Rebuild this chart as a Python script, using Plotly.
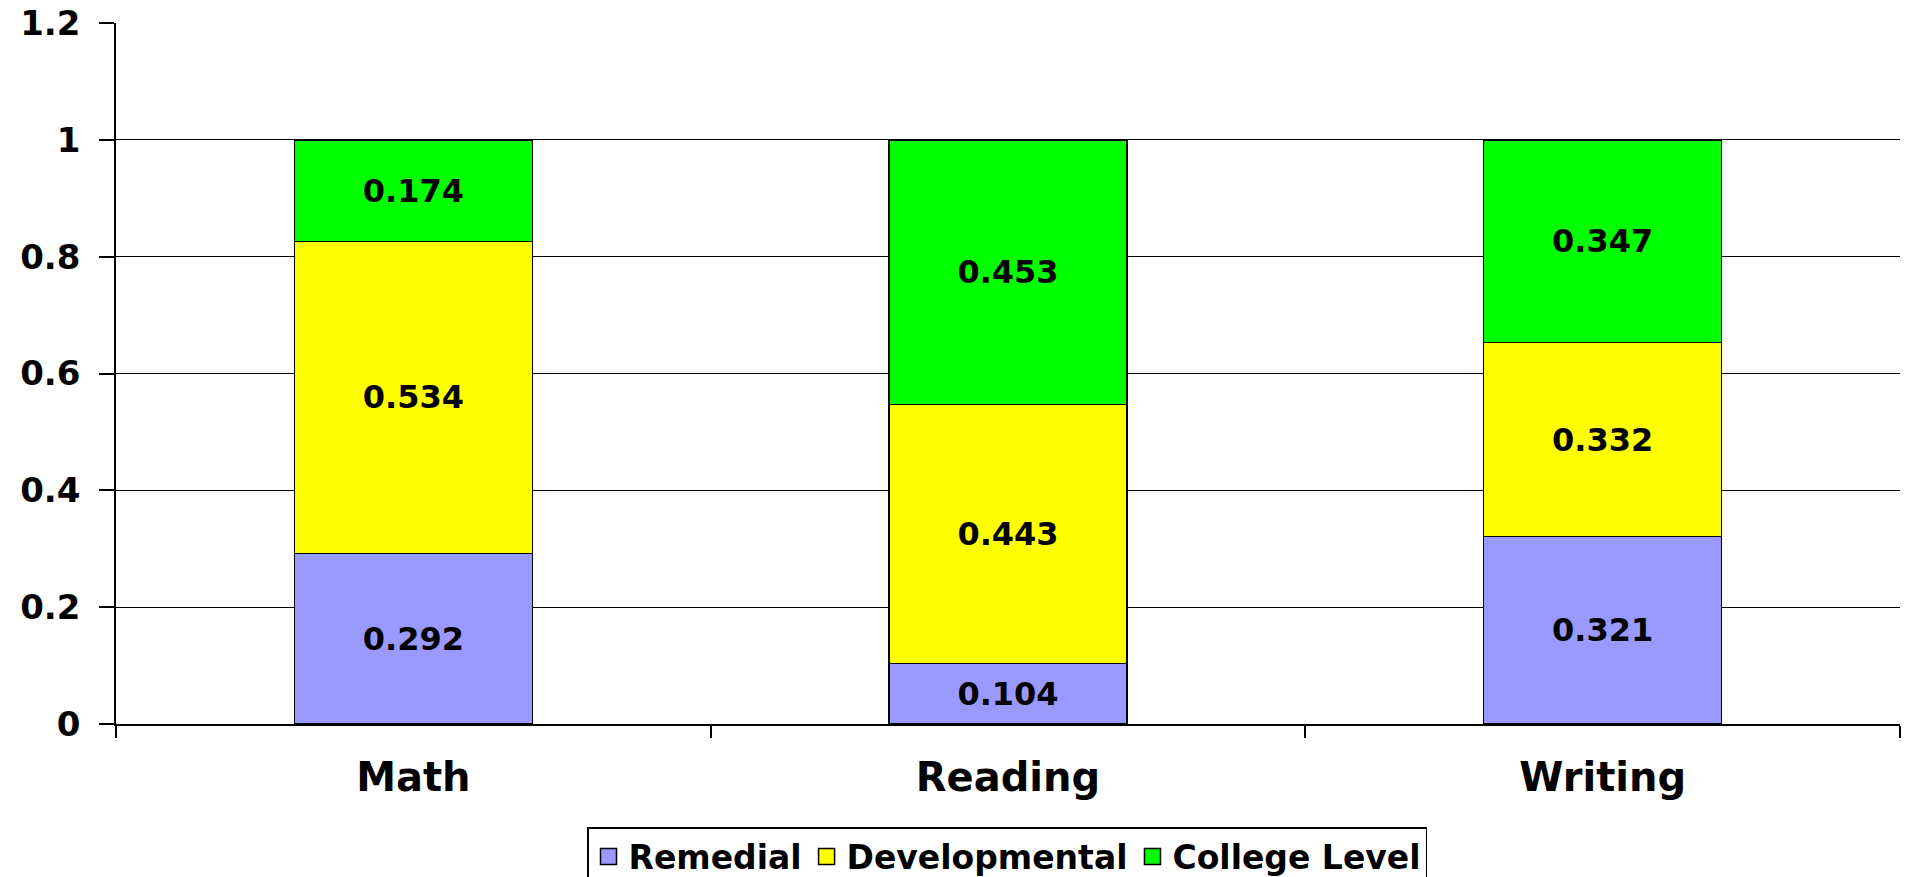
import plotly.graph_objects as go

categories = ["Math", "Reading", "Writing"]
series_names = ["Remedial", "Developmental", "College Level"]
remedial = [0.292, 0.104, 0.321]
developmental = [0.534, 0.443, 0.332]
college = [0.174, 0.453, 0.347]
colors = ["#9999FF", "#FFFF00", "#00FF00"]
y_ticks = [0, 0.2, 0.4, 0.6, 0.8, 1, 1.2]
y_tick_labels = ["0", "0.2", "0.4", "0.6", "0.8", "1", "1.2"]

FONT = "DejaVu Sans, Verdana, sans-serif"

fig = go.Figure()
for name, vals, col in zip(series_names, [remedial, developmental, college], colors):
    fig.add_trace(go.Bar(
        x=categories, y=vals, name=name, showlegend=False,
        marker=dict(color=col, line=dict(color="black", width=1.5)),
        text=[f"{v:.3f}" for v in vals],
        textposition="inside", insidetextanchor="middle",
        constraintext="none",
        textfont=dict(family=FONT, size=32, color="black", weight="bold"),
        hoverinfo="skip",
    ))
# legend entries with larger square swatches
for name, col in zip(series_names, colors):
    fig.add_trace(go.Scatter(
        x=[None], y=[None], mode="markers", name=name,
        marker=dict(symbol="square", size=23, color=col, line=dict(color="black", width=1.5)),
        showlegend=True, hoverinfo="skip",
    ))

W, H = 1910, 877
fig.update_layout(
    barmode="stack",
    bargap=0.6,
    width=W, height=H,
    margin=dict(l=116, r=10, t=23, b=153, autoexpand=False),
    paper_bgcolor="white", plot_bgcolor="white",
    font=dict(family=FONT, color="black"),
    legend=dict(
        orientation="h", xref="container", yref="container",
        x=1007 / W, xanchor="center", y=1 - 827 / H, yanchor="top",
        bordercolor="black", borderwidth=1.5,
        font=dict(family=FONT, size=33, color="black", weight="bold"),
        traceorder="normal", itemwidth=30,
    ),
    showlegend=True,
)
fig.update_xaxes(
    showline=True, linecolor="black", linewidth=1.5,
    ticks="outside", tickson="boundaries", ticklen=12, tickcolor="black", tickwidth=1.5,
    tickfont=dict(family=FONT, size=40, color="black", weight="bold"),
    ticklabelstandoff=17, automargin=False,
)
fig.update_yaxes(
    range=[0, 1.2001], tickvals=y_ticks, ticktext=y_tick_labels,
    showline=True, linecolor="black", linewidth=1.5,
    showgrid=True, gridcolor="black", gridwidth=1,
    ticks="outside", ticklen=15, tickcolor="black", tickwidth=1.5,
    tickfont=dict(family=FONT, size=34, color="black", weight="bold"),
    ticklabelstandoff=12, automargin=False, ticklabeloverflow="allow",
    zeroline=False,
)

fig.write_html(
    "out.html",
    config={"displayModeBar": False},
    post_script="document.body.style.margin='0px';document.body.style.overflow='hidden';",
)
